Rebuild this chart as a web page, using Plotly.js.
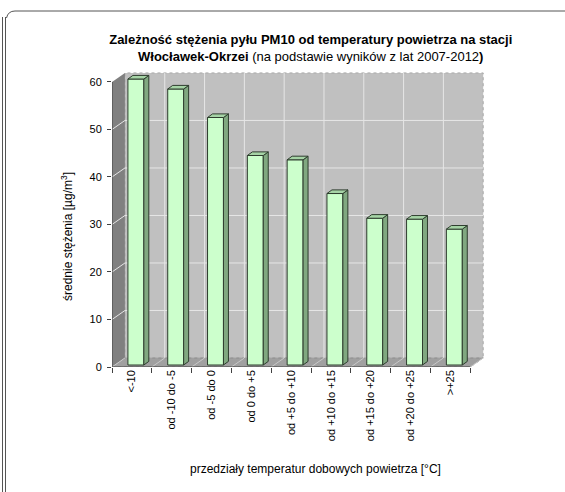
<!DOCTYPE html>
<html>
<head>
<meta charset="utf-8">
<script src="https://cdn.plot.ly/plotly-3.0.1.min.js"></script>
<style>
  html, body { margin: 0; padding: 0; background: #fff; }
  #chart { width: 565px; height: 492px; }
</style>
</head>
<body>
<div id="chart"></div>
<script>
// Temperature classes (daily air temperature, °C)
const categories = ['&lt;-10', 'od -10 do -5', 'od -5 do 0', 'od 0 do +5', 'od +5 do +10',
                    'od +10 do +15', 'od +15 do +20', 'od +20 do +25', '&gt;+25'];
// Mean PM10 concentration in each class [µg/m3]
const values = [60.2, 58.1, 52.1, 44.1, 43.2, 36.1, 30.9, 30.7, 28.6];
// Value axis ticks
const yTicks = [0, 10, 20, 30, 40, 50, 60];

const FONT = 'Liberation Sans, Arial, sans-serif';

// pseudo-3D box geometry (axis units)
const WALL_DX = 0.325, WALL_DY = 1.9;     // depth of the box
const BAR_BASE = 0.42, BAR_OFF = -0.1, BAR_W = 0.4;
const BAR_DX = 0.125, BAR_DY = 0.76;      // depth of each column

const xPos = categories.map((_, i) => i);
const xMin = -0.5, xMax = categories.length - 0.5;
const yMax = yTicks[yTicks.length - 1];

// plot-area pixel box (used for paper-referenced decoration and titles)
const M = { l: 112, r: 81, t: 72, b: 125 };
const W = 565, H = 492;
const PW = W - M.l - M.r, PH = H - M.t - M.b;
const px = x => (x - M.l) / PW;
const py = y => (H - M.b - y) / PH;

function poly(pts) {
  return 'M' + pts.map(p => p[0] + ',' + p[1]).join(' L') + ' Z';
}

const shapes = [];
// back wall
shapes.push({ type: 'path', layer: 'below', xref: 'x', yref: 'y',
  path: poly([[xMin + WALL_DX, WALL_DY], [xMax + WALL_DX, WALL_DY],
              [xMax + WALL_DX, yMax + WALL_DY], [xMin + WALL_DX, yMax + WALL_DY]]),
  fillcolor: '#c0c0c0', line: { color: '#a8a8a8', width: 1, dash: 'dot' } });
// side wall
shapes.push({ type: 'path', layer: 'below', xref: 'x', yref: 'y',
  path: poly([[xMin, 0], [xMin + WALL_DX, WALL_DY], [xMin + WALL_DX, yMax + WALL_DY], [xMin, yMax]]),
  fillcolor: '#808080', line: { width: 0 } });
// floor
shapes.push({ type: 'path', layer: 'below', xref: 'x', yref: 'y',
  path: poly([[xMin, 0], [xMax, 0], [xMax + WALL_DX, WALL_DY], [xMin + WALL_DX, WALL_DY]]),
  fillcolor: '#a0a0a0', line: { color: '#8a8a8a', width: 1, dash: 'dot' } });

// horizontal gridlines on back and side wall
yTicks.slice(1, -1).forEach(v => {
  shapes.push({ type: 'line', layer: 'below', xref: 'x', yref: 'y',
    x0: xMin + WALL_DX, x1: xMax + WALL_DX, y0: v + WALL_DY, y1: v + WALL_DY,
    line: { color: '#e6e6e6', width: 1 } });
  shapes.push({ type: 'line', layer: 'below', xref: 'x', yref: 'y',
    x0: xMin, x1: xMin + WALL_DX, y0: v, y1: v + WALL_DY,
    line: { color: '#e6e6e6', width: 1 } });
});
// vertical gridlines on back wall + floor division lines
for (let k = 1; k < categories.length; k++) {
  const xb = xMin + k;
  shapes.push({ type: 'line', layer: 'below', xref: 'x', yref: 'y',
    x0: xb + WALL_DX, x1: xb + WALL_DX, y0: WALL_DY, y1: yMax + WALL_DY,
    line: { color: '#e6e6e6', width: 1 } });
}
for (let k = 0; k <= categories.length; k++) {
  const xb = xMin + k;
  shapes.push({ type: 'line', layer: 'below', xref: 'x', yref: 'y',
    x0: xb, x1: xb + WALL_DX, y0: 0, y1: WALL_DY,
    line: { color: '#c8c8c8', width: 1 } });
}

// side and top faces of every column
values.forEach((v, i) => {
  const xl = xPos[i] + BAR_OFF, xr = xl + BAR_W;
  const b = BAR_BASE, t = BAR_BASE + v;
  shapes.push({ type: 'path', layer: 'above', xref: 'x', yref: 'y',
    path: poly([[xr, b], [xr + BAR_DX, b + BAR_DY], [xr + BAR_DX, t + BAR_DY], [xr, t]]),
    fillcolor: '#80a880', line: { color: '#2e3d2e', width: 1 } });
  shapes.push({ type: 'path', layer: 'above', xref: 'x', yref: 'y',
    path: poly([[xl, t], [xr, t], [xr + BAR_DX, t + BAR_DY], [xl + BAR_DX, t + BAR_DY]]),
    fillcolor: '#a6d4a6', line: { color: '#2e3d2e', width: 1 } });
});

// axis lines
shapes.push({ type: 'line', layer: 'above', xref: 'x', yref: 'y',
  x0: xMin, x1: xMin, y0: 0, y1: yMax, line: { color: '#404040', width: 1 } });
shapes.push({ type: 'line', layer: 'above', xref: 'x', yref: 'y',
  x0: xMin, x1: xMax, y0: 0, y1: 0, line: { color: '#404040', width: 1 } });

// page frame
const frame = { color: '#555', width: 1 };
shapes.push({ type: 'line', xref: 'paper', yref: 'paper',
  x0: px(2.5), x1: px(2.5), y0: py(17), y1: py(492), line: frame });
shapes.push({ type: 'line', xref: 'paper', yref: 'paper',
  x0: px(5.5), x1: px(5.5), y0: py(17), y1: py(492), line: frame });
shapes.push({ type: 'line', xref: 'paper', yref: 'paper',
  x0: px(15), x1: px(565), y0: py(11), y1: py(11), line: frame });
shapes.push({ type: 'path', xref: 'paper', yref: 'paper',
  path: 'M' + px(6.5) + ',' + py(18) + ' Q' + px(8) + ',' + py(11) + ' ' + px(15) + ',' + py(11),
  line: frame });

const trace = {
  type: 'bar',
  x: xPos,
  y: values,
  base: BAR_BASE,
  width: BAR_W,
  offset: BAR_OFF,
  marker: { color: '#ccffcc', line: { color: '#2e3d2e', width: 1 } },
  hoverinfo: 'skip'
};

const annotations = [
  { text: 'średnie stężenia [µg/m<sup>3</sup>]', textangle: -90,
    xref: 'paper', yref: 'paper', x: px(67), y: py(237),
    xanchor: 'center', yanchor: 'middle', showarrow: false,
    font: { family: FONT, size: 12, color: '#000' } },
  { text: 'przedziały temperatur dobowych powietrza [°C]',
    xref: 'paper', yref: 'paper', x: px(315), y: py(469),
    xanchor: 'center', yanchor: 'middle', showarrow: false,
    font: { family: FONT, size: 12, color: '#000' } }
];

const layout = {
  width: W, height: H,
  margin: M,
  paper_bgcolor: '#ffffff',
  plot_bgcolor: '#ffffff',
  showlegend: false,
  font: { family: FONT, size: 11, color: '#000' },
  title: {
    text: '<b>Zależność stężenia pyłu PM10 od temperatury powietrza na stacji</b><br>' +
          '<b>Włocławek-Okrzei</b> (na podstawie wyników z lat 2007-2012<b>)</b>',
    font: { family: FONT, size: 13, color: '#000' },
    x: 0.55, xanchor: 'center',
    y: 1 - 44 / H, yanchor: 'middle', yref: 'container'
  },
  xaxis: {
    type: 'linear',
    range: [xMin, xMax + WALL_DX + 0.02],
    tickvals: xPos,
    ticktext: categories,
    tickangle: -90,
    ticks: '',
    showgrid: false, zeroline: false, showline: false,
    minor: { tick0: 0.5, dtick: 1, ticks: 'outside', ticklen: 5, tickcolor: '#404040', showgrid: false },
    tickfont: { family: FONT, size: 11, color: '#000' }
  },
  yaxis: {
    range: [0, yMax + WALL_DY + 0.2],
    tickvals: yTicks,
    ticks: 'outside', ticklen: 4, tickcolor: '#404040',
    ticklabelstandoff: 3,
    showgrid: false, zeroline: false, showline: false,
    tickfont: { family: FONT, size: 11, color: '#000' }
  },
  annotations: annotations,
  shapes: shapes
};

Plotly.newPlot('chart', [trace], layout, { staticPlot: true, displayModeBar: false });
</script>
</body>
</html>
